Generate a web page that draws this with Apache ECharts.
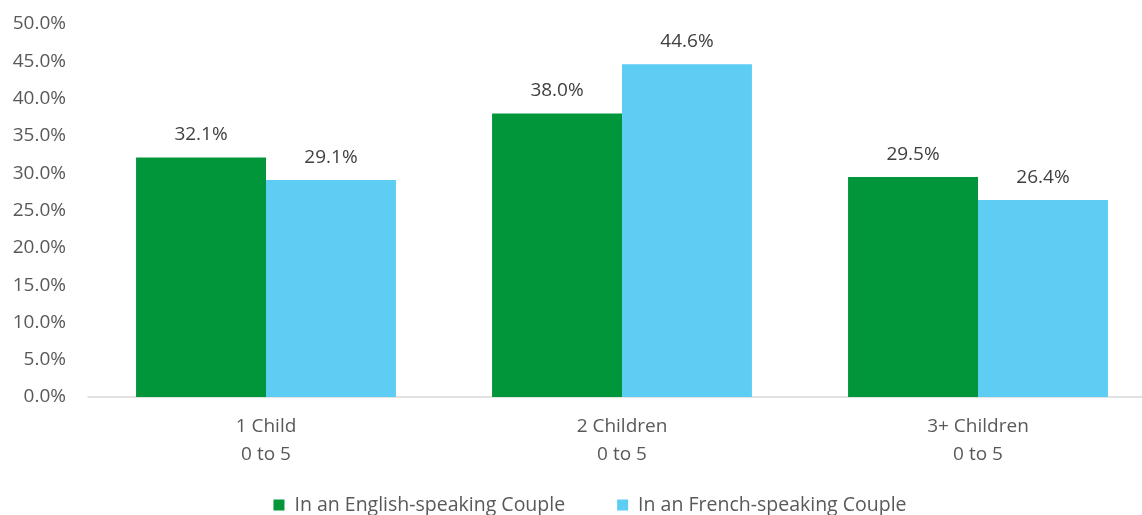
<!DOCTYPE html>
<html><head><meta charset="utf-8">
<script src="https://cdn.jsdelivr.net/npm/echarts@6/dist/echarts.min.js"></script>
<style>html,body{margin:0;padding:0;background:#fff;overflow:hidden}#c{width:1180px;height:515px}</style>
</head><body><div id="c"></div>
<script>
const categories = ['1 Child\n0 to 5', '2 Children\n0 to 5', '3+ Children\n0 to 5'];
const english = [32.1, 38.0, 29.5];
const french = [29.1, 44.6, 26.4];
const seriesNames = ['In an English-speaking Couple', 'In an French-speaking Couple'];
const font = '"Open Sans", "Noto Sans", sans-serif';
const chart = echarts.init(document.getElementById('c'));
const lbl = {show: true, position: 'top', distance: 13, color: '#404040', fontSize: 19, fontFamily: font,
  formatter: p => p.value.toFixed(1) + '%'};
chart.setOption({
  animation: false,
  grid: {left: 88, right: 24, top: 24, bottom: 118},
  legend: {top: 495, left: 'center', itemWidth: 11, itemHeight: 11, itemGap: 52, icon: 'rect', padding: 0,
    textStyle: {color: '#595959', fontSize: 19.5, fontFamily: font, padding: [0, 0, 0, 5]}},
  xAxis: {type: 'category', data: categories,
    axisLine: {lineStyle: {color: '#d9d9d9', width: 1.5}}, axisTick: {show: false},
    axisLabel: {color: '#595959', fontSize: 19, fontFamily: font, lineHeight: 28, margin: 16}},
  yAxis: {type: 'value', min: 0, max: 50, interval: 5, splitLine: {show: false},
    axisLabel: {color: '#595959', fontSize: 19, fontFamily: font, margin: 22, formatter: v => v.toFixed(1) + '%'}},
  series: [
    {name: seriesNames[0], type: 'bar', data: english, barWidth: '36.5%', barGap: '0%', itemStyle: {color: '#009639'}, label: lbl},
    {name: seriesNames[1], type: 'bar', data: french, barWidth: '36.5%', itemStyle: {color: '#5DCDF3'}, label: lbl}
  ]
});
</script></body></html>
